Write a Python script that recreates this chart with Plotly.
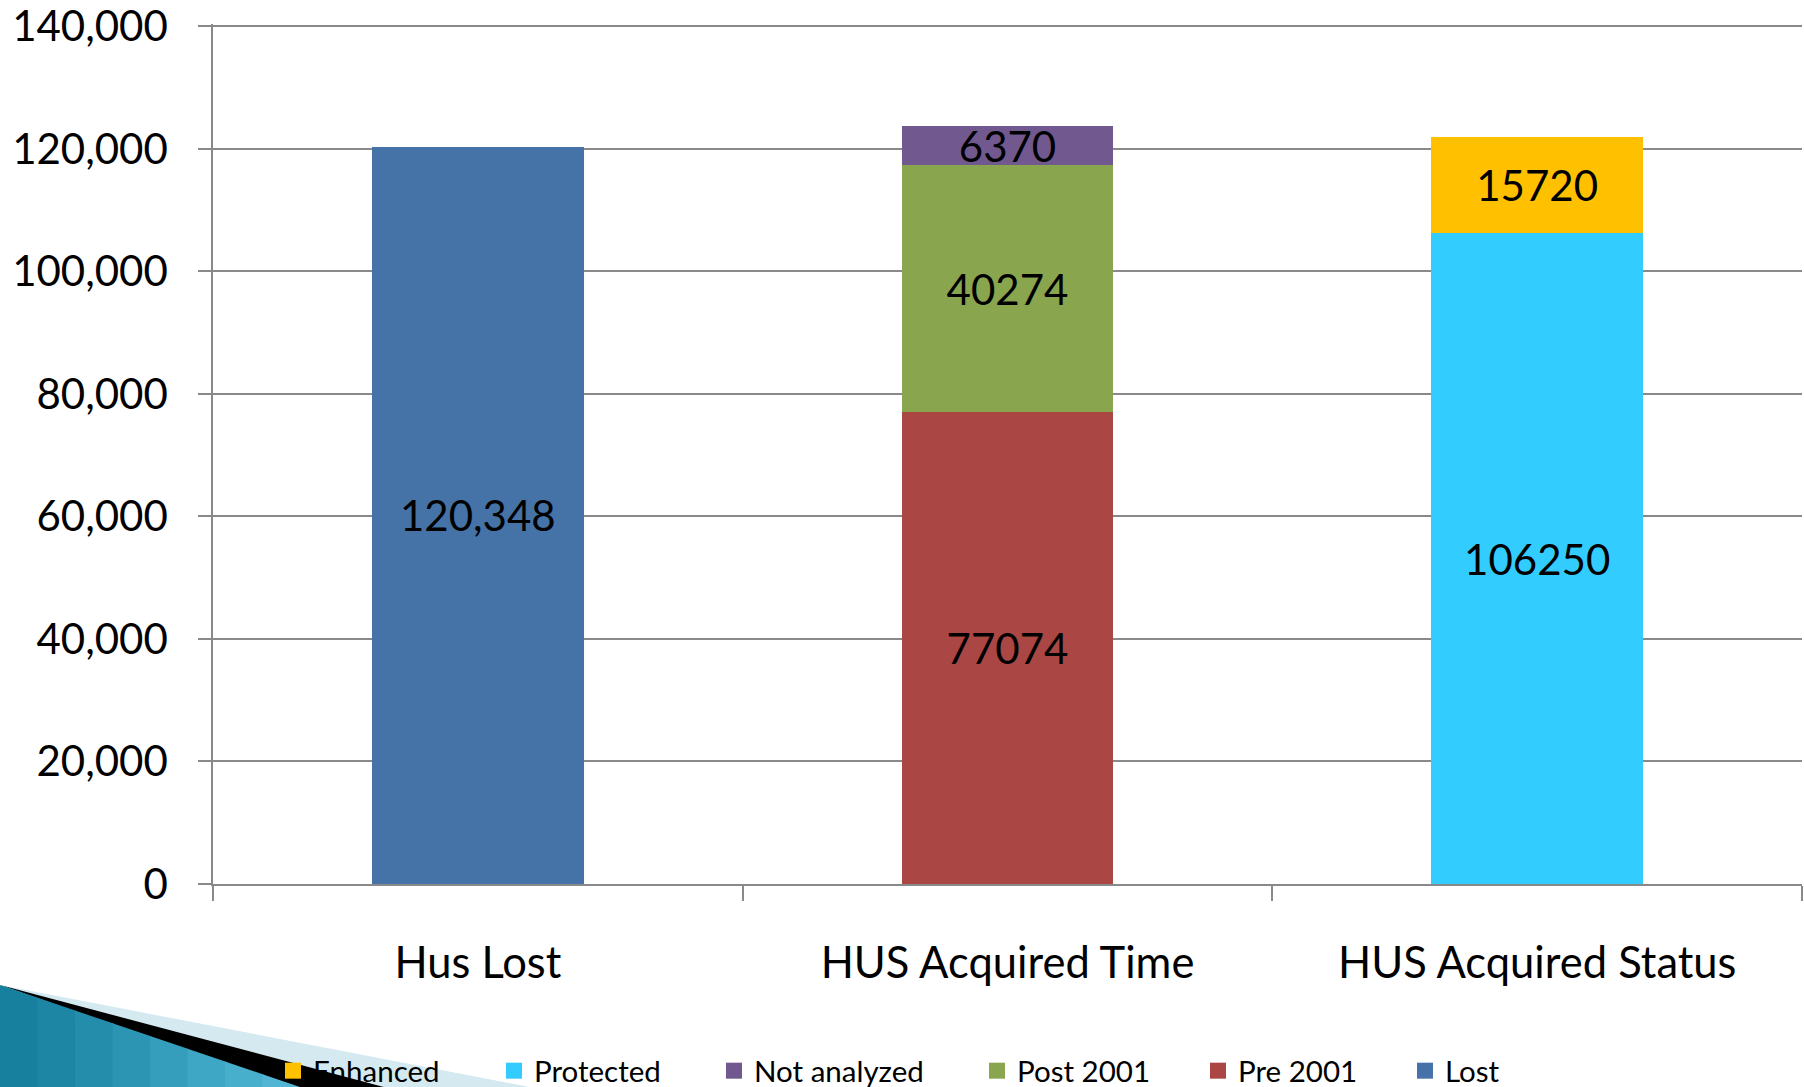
import plotly.graph_objects as go

# ---------------- data ----------------
categories = ["Hus Lost", "HUS Acquired Time", "HUS Acquired Status"]
lost = [120348, None, None]
pre_2001 = [None, 77074, None]
post_2001 = [None, 40274, None]
not_analyzed = [None, 6370, None]
protected = [None, None, 106250]
enhanced = [None, None, 15720]
y_ticks = [0, 20000, 40000, 60000, 80000, 100000, 120000, 140000]

# ---------------- layout constants ----------------
W, H = 1804, 1087
L, R, T, B = 213, 2, 24, 203
PW, PH = W - L - R, H - T - B
FONT = "Lato"
GRID = "#898989"


def px(X):
    return (X - L) / PW


def py(Y):
    return (H - B - Y) / PH


def labels(vals, fmt):
    return [fmt(v) if v is not None else "" for v in vals]


plain = lambda v: str(v)
comma = lambda v: f"{v:,}"

series = [
    ("Lost", lost, "#4572A7", comma, "legend6"),
    ("Pre 2001", pre_2001, "#AA4643", plain, "legend5"),
    ("Post 2001", post_2001, "#89A54E", plain, "legend4"),
    ("Not analyzed", not_analyzed, "#71588F", plain, "legend3"),
    ("Protected", protected, "#33CCFF", plain, "legend2"),
    ("Enhanced", enhanced, "#FFC000", plain, "legend"),
]

fig = go.Figure()
for name, vals, color, fmt, leg in series:
    fig.add_trace(go.Bar(
        x=categories, y=vals, name=name, legendgroup=name,
        marker=dict(color=color, line=dict(width=0)),
        text=labels(vals, fmt), texttemplate="%{text}",
        textposition="inside", insidetextanchor="middle",
        constraintext="none",
        textfont=dict(family=FONT, size=42, color="black"),
        width=0.4, showlegend=False,
    ))
    # legend entry (square key like the original)
    fig.add_trace(go.Scatter(
        x=[None], y=[None], name=name, legendgroup=name, mode="markers",
        marker=dict(symbol="square", size=16, color=color),
        legend=leg, showlegend=True, hoverinfo="skip",
    ))

# legend text x positions (pixels) in reference
legend_text_x = {"legend": 313, "legend2": 534, "legend3": 754,
                 "legend4": 1017, "legend5": 1238, "legend6": 1445}
legend_y = 1071
leg_layout = {}
for k, tx in legend_text_x.items():
    leg_layout[k] = dict(
        xref="container", yref="container",
        x=(tx - 40) / W, y=(H - legend_y) / H,
        xanchor="left", yanchor="middle",
        orientation="h", bgcolor="rgba(0,0,0,0)", borderwidth=0,
        font=dict(family=FONT, size=29.5, color="black"),
    )

# ---------------- decorative corner (slide theme) ----------------
shapes = []


def poly(points, color):
    d = "M " + " L ".join(f"{px(x):.5f},{py(y):.5f}" for x, y in points) + " Z"
    return dict(type="path", path=d, xref="paper", yref="paper",
                fillcolor=color, line=dict(width=0), layer="below")


shapes.append(poly([(0, 985), (545, 1090), (300, 1090)], "#d5e9f1"))
shapes.append(poly([(0, 985), (395, 1090), (300, 1090)], "#000000"))
teal_cols = ["#16809e", "#1c86a4", "#238dab", "#2b95b3", "#349ebc",
             "#3da7c5", "#47aecc", "#52b5d3"]
n = len(teal_cols)
for i, c in enumerate(teal_cols):
    xa = 300 * i / n
    xb = 300 * (i + 1) / n + 1
    ta = 985 + xa * 102 / 300
    tb = 985 + xb * 102 / 300
    shapes.append(poly([(xa, ta), (xb, tb), (xb, 1090), (xa, 1090)], c))

fig.update_layout(
    width=W, height=H,
    margin=dict(l=L, r=R, t=T, b=B, pad=0, autoexpand=False),
    paper_bgcolor="white", plot_bgcolor="white",
    barmode="stack", bargap=0.6, showlegend=True,
    font=dict(family=FONT, color="black"),
    shapes=shapes,
    **leg_layout,
)

fig.update_xaxes(
    type="category", tickson="boundaries",
    showline=True, linecolor=GRID, linewidth=1.5,
    ticks="outside", ticklen=15, tickcolor=GRID, tickwidth=1.5,
    showgrid=False, tickfont=dict(family=FONT, size=43.5, color="black"),
    ticklabelstandoff=40,
)
fig.update_yaxes(
    range=[0, 140400], tickvals=y_ticks, tickformat=",",
    showline=True, linecolor=GRID, linewidth=1.5,
    ticks="outside", ticklen=13, tickcolor=GRID, tickwidth=1.5,
    showgrid=True, gridcolor=GRID, gridwidth=1.5, zeroline=False,
    tickfont=dict(family=FONT, size=42, color="black"),
    ticklabelstandoff=22, ticklabeloverflow="allow",
)

fig.write_html("out.html", config={"displayModeBar": False},
               post_script="document.body.style.margin='0';")
